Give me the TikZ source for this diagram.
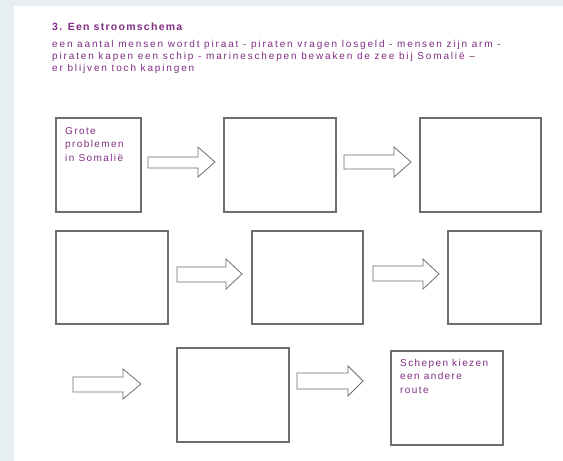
\documentclass[tikz,border=0pt]{standalone}
\usepackage{fontspec}
\setmainfont{Liberation Sans}
\newfontfamily\trackfont[LetterSpace=14]{Liberation Sans}
\newfontfamily\introfont[LetterSpace=18.5]{Liberation Sans}
\newfontfamily\trackboldfont[LetterSpace=12]{Liberation Sans Bold}
\definecolor{txtpurple}{RGB}{128,45,132}
\definecolor{bgblue}{RGB}{230,238,241}
\definecolor{linegray}{RGB}{110,110,110}
\newcommand\blockarrow[7]{%
  \draw[arrowshape] (#1,#3) -- (#7,#3) -- (#7,#5) -- (#2,{(#5+#6)/2}) -- (#7,#6) -- (#7,#4) -- (#1,#4) -- cycle;}
\begin{document}
\begin{tikzpicture}[x=1pt,y=-1pt,
  box/.style={draw=linegray, line width=1.1pt, fill=white, inner sep=0pt, outer sep=0pt},
  arrowshape/.style={draw=linegray, line width=0.8pt, fill=white, line join=miter},
  txt/.style={text=txtpurple, inner sep=0pt, anchor=north west, align=left, font=\trackfont\fontsize{10}{13.5}\selectfont},
  introtxt/.style={text=txtpurple, inner sep=0pt, anchor=north west, align=left, font=\introfont\fontsize{10}{12}\selectfont},
  titletxt/.style={text=txtpurple, inner sep=0pt, anchor=north west, font=\trackboldfont\fontsize{10.5}{12}\selectfont}]
\useasboundingbox (0,0) rectangle (563,461);
\fill[bgblue] (0,0) rectangle (563,461);
\fill[white] (14,6) rectangle (563,461);

\node[titletxt] (title) at (52,23) {3. Een stroomschema};
\node[introtxt] (intro) at (52,40) {een aantal mensen wordt piraat - piraten vragen losgeld - mensen zijn arm -\\
piraten kapen een schip - marineschepen bewaken de zee bij Somalië –\\
er blijven toch kapingen};

% row 1
\node[box, minimum width=85, minimum height=94] (b1) at (98.5,165) {};
\node[box, minimum width=112, minimum height=94] (b2) at (280,165) {};
\node[box, minimum width=121, minimum height=94] (b3) at (480.5,165) {};
% row 2
\node[box, minimum width=112, minimum height=93] (b4) at (112,277.5) {};
\node[box, minimum width=111, minimum height=93] (b5) at (307.5,277.5) {};
\node[box, minimum width=93, minimum height=93] (b6) at (494.5,277.5) {};
% row 3
\node[box, minimum width=112, minimum height=94] (b7) at (233,395) {};
\node[box, minimum width=112, minimum height=94] (b8) at (447,398) {};

\node[txt] (t1) at (65,127) {Grote\\problemen\\in Somalië};
\node[txt] (t8) at (400,359) {Schepen kiezen\\een andere\\route};

% block arrows
\blockarrow{148}{215}{157}{168}{147}{177}{198}
\blockarrow{344}{411}{155}{169}{147}{177}{394}
\blockarrow{177}{242}{267}{282}{259}{289}{226}
\blockarrow{373}{439}{266}{281}{259}{289}{423}
\blockarrow{73}{141}{377}{392}{369}{399}{123}
\blockarrow{297}{363}{373}{389}{366}{396}{348}
\end{tikzpicture}
\end{document}
